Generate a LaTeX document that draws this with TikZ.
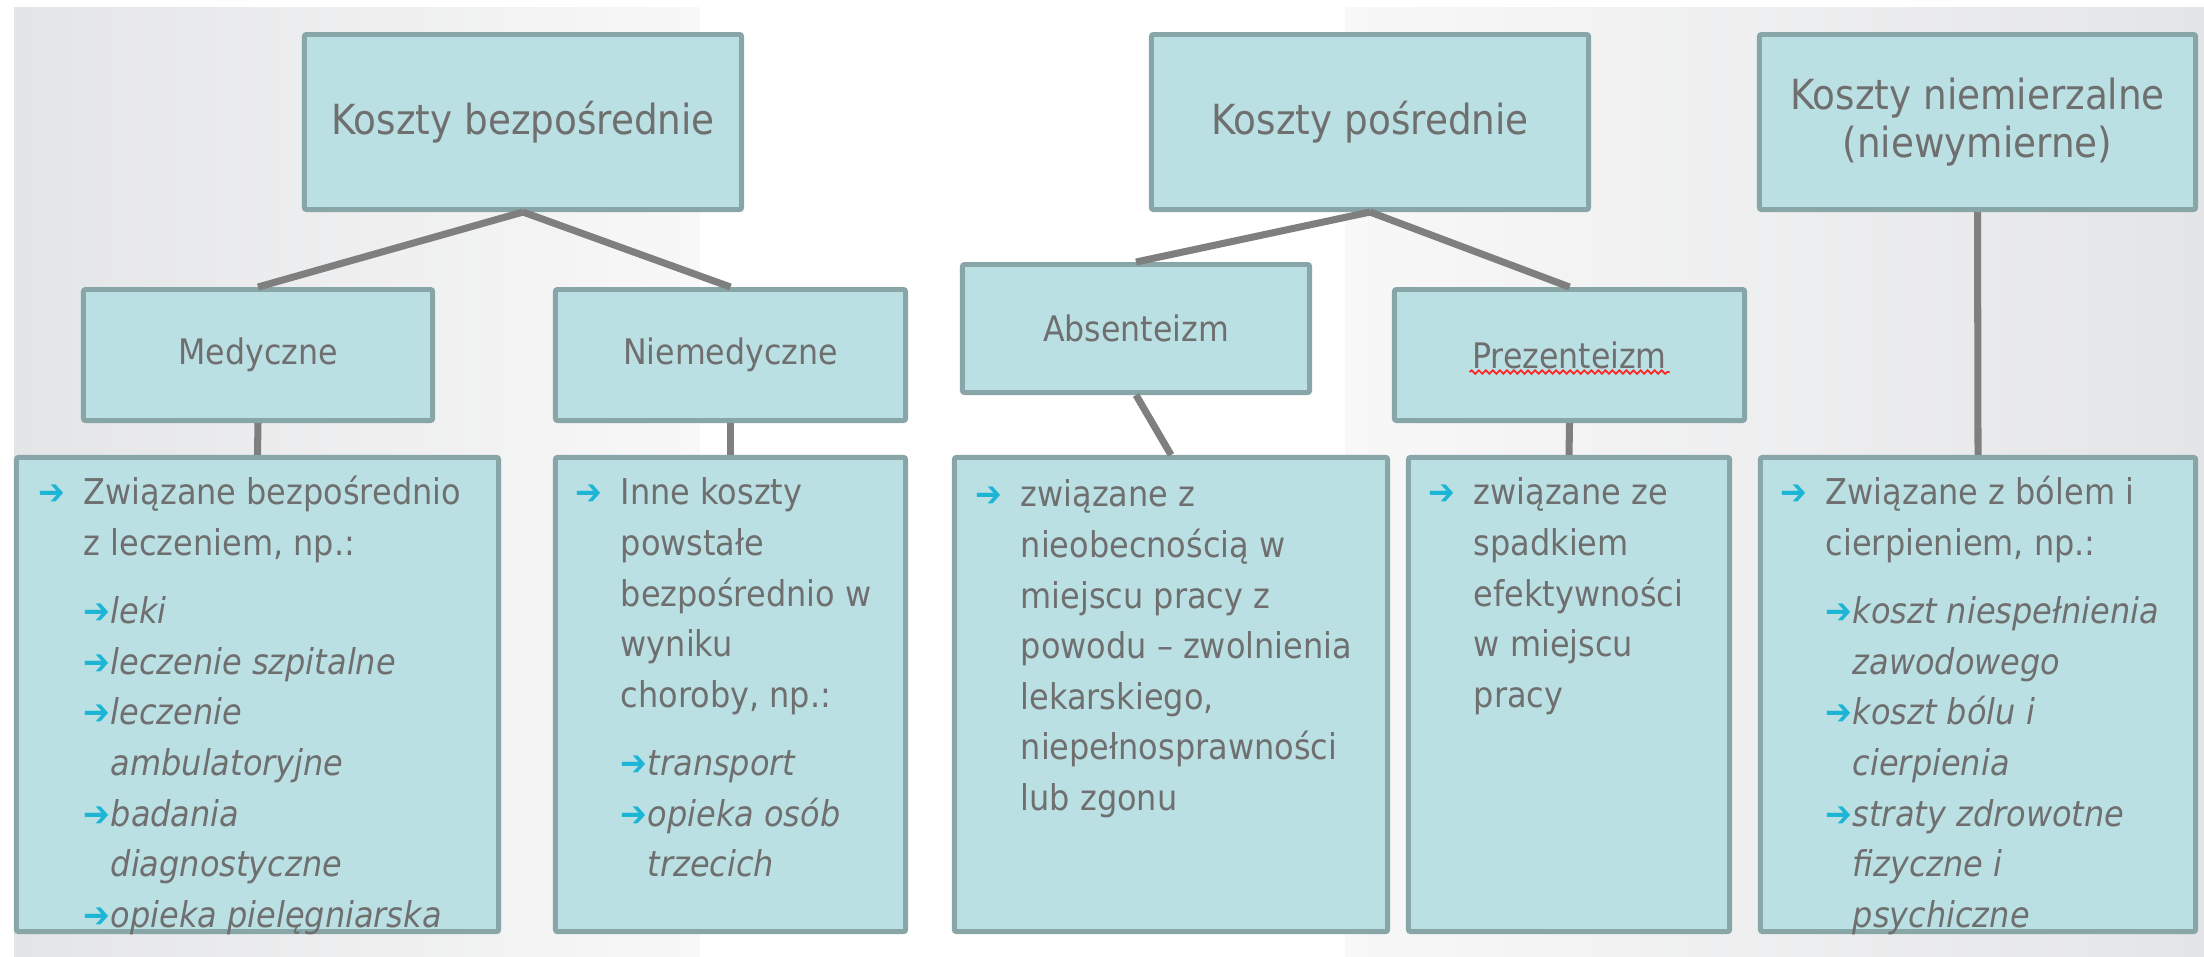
\documentclass[tikz,border=0pt]{standalone}
\usepackage{fontspec}
\setmainfont{DejaVu Sans}[FakeStretch=0.9]
\usepackage{tikz}
\usetikzlibrary{calc,decorations.pathmorphing}
\definecolor{kfill}{HTML}{BBE0E3}
\definecolor{kedge}{HTML}{88A5A7}
\definecolor{kline}{HTML}{7F7F7F}
\definecolor{ktext}{HTML}{6F6F6F}
\definecolor{kcyan}{HTML}{1CB5D6}
\definecolor{bgside}{HTML}{E4E5E7}
\definecolor{bgmid}{HTML}{F8F8F8}
\tikzset{kbox/.style={draw=kedge,fill=kfill,line width=1.4pt,rounded corners=0.6pt,inner sep=0pt,text=ktext}}
\tikzset{ktitle/.style={kbox,align=center,font=\fontsize{11.8}{13.4}\selectfont}}
\tikzset{kmid/.style={kbox,font=\fontsize{10}{12}\selectfont}}
\tikzset{kconn/.style={draw=kline,line width=2pt}}
\tikzset{klist/.style={inner sep=0pt,anchor=north west,align=left,text=ktext,font=\fontsize{10.1}{14.4}\selectfont}}
\newcommand{\kbulA}{\strut\makebox[0.45cm][l]{\textcolor{kcyan}{➔}}}
\newcommand{\kbulB}{\hspace*{0.45cm}\makebox[0.27cm][l]{\textcolor{kcyan}{➔}}}
\newcommand{\kindA}{\hspace*{0.45cm}}
\newcommand{\kindB}{\hspace*{0.72cm}}

\begin{document}
\begin{tikzpicture}[x=0.01cm,y=-0.01cm]
    \useasboundingbox (0,0) rectangle (2204,956);
    % tlo
    \fill[left color=bgside,right color=bgmid] (14,7) rectangle (700,956);
    \fill[white] (700,7) rectangle (1345,956);
    \fill[left color=bgmid,right color=bgside] (1345,7) rectangle (2204,956);

    % gorny rzad
    \node[ktitle,minimum width=4.37cm,minimum height=1.75cm] (bezp) at (523,122) {Koszty bezpośrednie};
    \node[ktitle,minimum width=4.37cm,minimum height=1.75cm] (posr) at (1370,122) {Koszty pośrednie};
    \node[ktitle,minimum width=4.36cm,minimum height=1.75cm] (niem) at (1977.5,122) {Koszty niemierzalne\\(niewymierne)};

    % srodkowy rzad
    \node[kmid,minimum width=3.49cm,minimum height=1.31cm] (med) at (258,355) {Medyczne};
    \node[kmid,minimum width=3.50cm,minimum height=1.31cm] (niemed) at (730.5,355) {Niemedyczne};
    \node[kmid,minimum width=3.47cm,minimum height=1.28cm] (abs) at (1136,328.5) {Absenteizm};
    \node[kmid,minimum width=3.50cm,minimum height=1.31cm] (prez) at (1569.5,355) {Prezenteizm};
    \draw[red!85,line width=0.5pt,decorate,decoration={snake,amplitude=0.5pt,segment length=2pt}]
        ($(prez.center)+(-100,17)$) -- ($(prez.center)+(100,17)$);

    % dolny rzad
    \node[kbox,minimum width=4.82cm,minimum height=4.74cm] (b1) at (257.5,694.5) {};
    \node[kbox,minimum width=3.50cm,minimum height=4.74cm] (b2) at (730.5,694.5) {};
    \node[kbox,minimum width=4.33cm,minimum height=4.74cm] (b3) at (1171,694.5) {};
    \node[kbox,minimum width=3.21cm,minimum height=4.74cm] (b4) at (1569,694.5) {};
    \node[kbox,minimum width=4.35cm,minimum height=4.74cm] (b5) at (1978,694.5) {};

    % polaczenia
    \draw[kconn] (bezp.south) -- (med.north);
    \draw[kconn] (bezp.south) -- (niemed.north);
    \draw[kconn] (posr.south) -- (abs.north);
    \draw[kconn] (posr.south) -- (prez.north);
    \draw[kconn] (niem.south) -- (b5.north);
    \draw[kconn] (med.south) -- (b1.north);
    \draw[kconn] (niemed.south) -- (b2.north);
    \draw[kconn] (abs.south) -- (b3.north);
    \draw[kconn] (prez.south) -- (b4.north);

    % teksty list
    \node[klist] (t1) at (38,468.6) {\kbulA Związane bezpośrednio\\
        \kindA z leczeniem, np.:\\[5pt]
        \kbulB\textit{leki}\\
        \kbulB\textit{leczenie szpitalne}\\
        \kbulB\textit{leczenie}\\
        \kindB\textit{ambulatoryjne}\\
        \kbulB\textit{badania}\\
        \kindB\textit{diagnostyczne}\\
        \kbulB\textit{opieka pielęgniarska}};
    \node[klist] (t2) at (575,468.6) {\kbulA Inne koszty\\
        \kindA powstałe\\
        \kindA bezpośrednio w\\
        \kindA wyniku\\
        \kindA choroby, np.:\\[5pt]
        \kbulB\textit{transport}\\
        \kbulB\textit{opieka osób}\\
        \kindB\textit{trzecich}};
    \node[klist] (t3) at (975,470.6) {\kbulA związane z\\
        \kindA nieobecnością w\\
        \kindA miejscu pracy z\\
        \kindA powodu -- zwolnienia\\
        \kindA lekarskiego,\\
        \kindA niepełnosprawności\\
        \kindA lub zgonu};
    \node[klist] (t4) at (1428,468.6) {\kbulA związane ze\\
        \kindA spadkiem\\
        \kindA efektywności\\
        \kindA w miejscu\\
        \kindA pracy};
    \node[klist] (t5) at (1780,468.6) {\kbulA Związane z bólem i\\
        \kindA cierpieniem, np.:\\[5pt]
        \kbulB\textit{koszt niespełnienia}\\
        \kindB\textit{zawodowego}\\
        \kbulB\textit{koszt bólu i}\\
        \kindB\textit{cierpienia}\\
        \kbulB\textit{straty zdrowotne}\\
        \kindB\textit{fizyczne i}\\
        \kindB\textit{psychiczne}};
\end{tikzpicture}
\end{document}
